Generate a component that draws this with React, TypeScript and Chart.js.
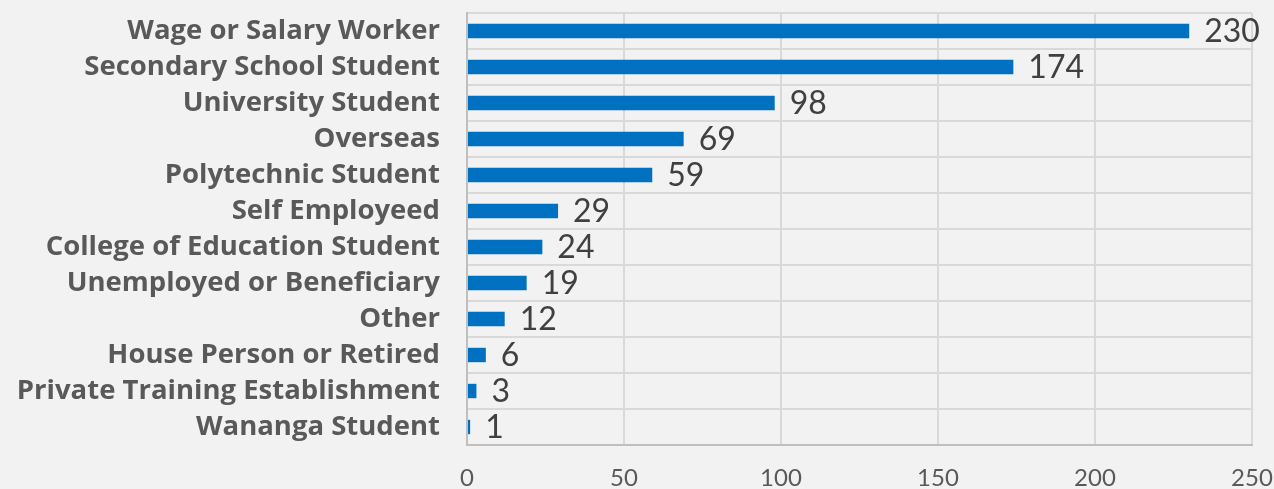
import React, { useEffect, useRef } from "react";
import { Chart, registerables } from "chart.js";

Chart.register(...registerables);

const categories = [
  "Wage or Salary Worker",
  "Secondary School Student",
  "University Student",
  "Overseas",
  "Polytechnic Student",
  "Self Employeed",
  "College of Education Student",
  "Unemployed or Beneficiary",
  "Other",
  "House Person or Retired",
  "Private Training Establishment",
  "Wananga Student",
];
const values = [230, 174, 98, 69, 59, 29, 24, 19, 12, 6, 3, 1];
const xTicks = [0, 50, 100, 150, 200, 250];

const valueLabels = {
  id: "valueLabels",
  afterDatasetsDraw(chart: any) {
    const ctx = chart.ctx;
    const meta = chart.getDatasetMeta(0);
    ctx.save();
    ctx.font = "400 32px Lato";
    ctx.fillStyle = "#404040";
    ctx.textAlign = "left";
    ctx.textBaseline = "middle";
    meta.data.forEach((bar: any, i: number) => {
      ctx.fillText(String(values[i]), bar.x + 15, bar.y + 1);
    });
    ctx.restore();
  },
};

export default function App() {
  const ref = useRef<HTMLCanvasElement>(null);
  useEffect(() => {
    document.body.style.margin = "0";
    document.body.style.background = "#f2f2f2";
    const chart = new Chart(ref.current!, {
      type: "bar",
      data: {
        labels: categories,
        datasets: [
          {
            data: values,
            backgroundColor: "#0070c0",
            barPercentage: 0.4,
            categoryPercentage: 1,
          },
        ],
      },
      plugins: [valueLabels],
      options: {
        indexAxis: "y",
        animation: false,
        responsive: false,
        layout: { padding: { left: 0, right: 22, top: 13, bottom: 0 } },
        plugins: { legend: { display: false }, tooltip: { enabled: false } },
        scales: {
          x: {
            min: 0,
            max: 250,
            afterBuildTicks(axis: any) {
              axis.ticks = xTicks.map((v) => ({ value: v }));
            },
            afterFit(axis: any) {
              axis.height = 44;
              axis.paddingLeft = 0;
              axis.paddingRight = 0;
              axis.paddingTop = 0;
              axis.paddingBottom = 0;
            },
            grid: { color: "#d9d9d9", lineWidth: 2, drawTicks: false },
            border: { color: "#bfbfbf", width: 2 },
            ticks: {
              padding: 19,
              color: "#595959",
              font: { family: "Lato", size: 24 },
            },
          },
          y: {
            afterFit(axis: any) {
              axis.width = 467;
              axis.paddingLeft = 0;
              axis.paddingRight = 0;
              axis.paddingTop = 0;
              axis.paddingBottom = 0;
            },
            grid: { color: "#d9d9d9", lineWidth: 2, drawTicks: false, offset: true },
            border: { color: "#bfbfbf", width: 2 },
            ticks: {
              padding: 27,
              color: "#595959",
              font: { family: "Open Sans", size: 27.5, weight: "bold" },
              autoSkip: false,
            },
          },
        },
      },
    });
    return () => chart.destroy();
  }, []);
  return (
    <div style={{ width: 1274, height: 489, background: "#f2f2f2" }}>
      <canvas ref={ref} width={1274} height={489} />
    </div>
  );
}
